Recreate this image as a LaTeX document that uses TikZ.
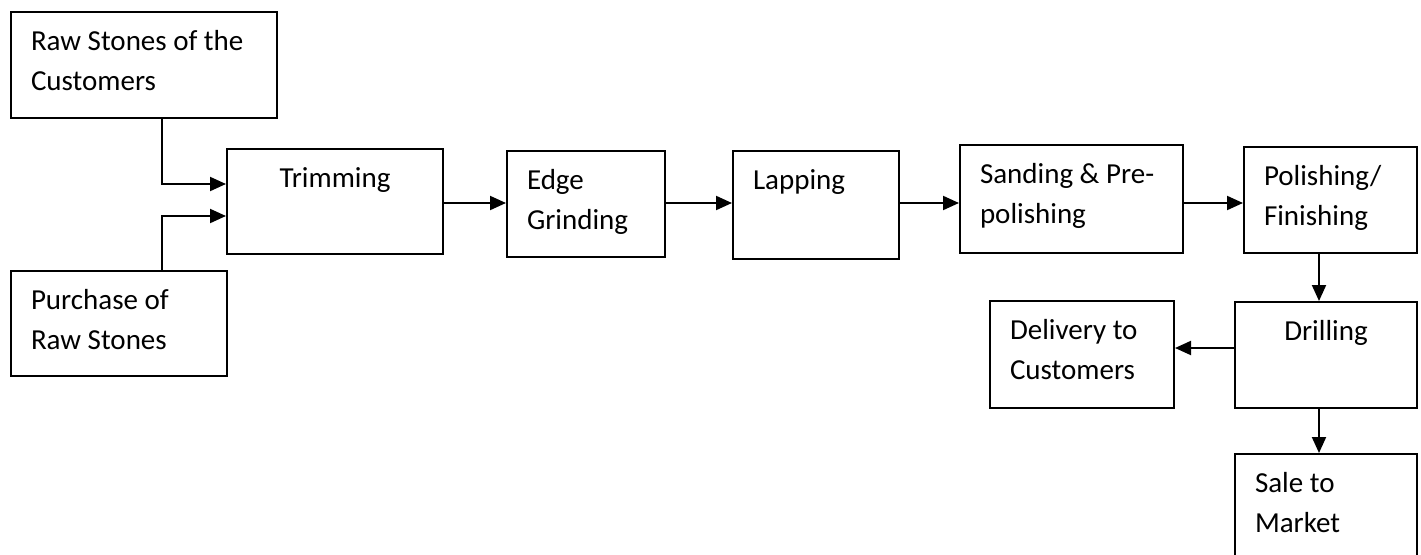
\documentclass[tikz,border=0pt]{standalone}
\usepackage{fontspec}
\setmainfont{Carlito}
\usetikzlibrary{arrows.meta}

\tikzset{
  stage/.style 2 args={draw, line width=2pt, anchor=north west,
    inner xsep=20pt, inner ysep=0pt, align=flush left,
    text width=#1, text height=38pt, text depth=#2,
    font=\fontsize{29}{40}\selectfont},
  flow/.style={-{Triangle[length=16pt,width=14pt]}, line width=2pt}
}

\begin{document}
\begin{tikzpicture}[x=1pt, y=-1pt]
\useasboundingbox (0,0) rectangle (1421,554);
\clip (0,0) rectangle (1421,554);
\node (raw) [stage={226pt}{68pt}] at (10,11) {Raw Stones of the\\Customers};
\node (purch) [stage={176pt}{67pt}] at (10,270) {Purchase of\\Raw Stones};
\node (trim) [stage={176pt}{67pt}, align=flush center] at (226,148) {Trimming};
\node (edge) [stage={118pt}{68pt}] at (506,150) {Edge\\Grinding};
\node (lap) [stage={126pt}{70pt}] at (732,150) {Lapping};
\node (sand) [stage={183pt}{70pt}] at (959,144) {Sanding \& Pre-\\polishing};
\node (polish) [stage={133pt}{68pt}] at (1243,146) {Polishing/\\Finishing};
\node (drill) [stage={142pt}{68pt}, align=flush center] at (1234,301) {Drilling};
\node (deliv) [stage={144pt}{69pt}] at (989,300) {Delivery to\\Customers};
\node (sale) [stage={142pt}{72pt}] at (1234,453) {Sale to\\Market};
\coordinate (split) at (162,0);
\coordinate (row) at (0,203);
\coordinate (col) at (1319,0);
\draw [flow] (raw.south -| split) |- ([yshift=17.5pt]trim.west);
\draw [flow] (purch.north -| split) |- ([yshift=-14.5pt]trim.west);
\draw [flow] (trim.east |- row) -- (edge.west |- row);
\draw [flow] (edge.east |- row) -- (lap.west |- row);
\draw [flow] (lap.east |- row) -- (sand.west |- row);
\draw [flow] (sand.east |- row) -- (polish.west |- row);
\draw [flow] (polish.south -| col) -- (drill.north -| col);
\draw [flow] ([yshift=7pt]drill.west) -- ([yshift=7pt]drill.west -| deliv.east);
\draw [flow] (drill.south -| col) -- (sale.north -| col);
\end{tikzpicture}
\end{document}
